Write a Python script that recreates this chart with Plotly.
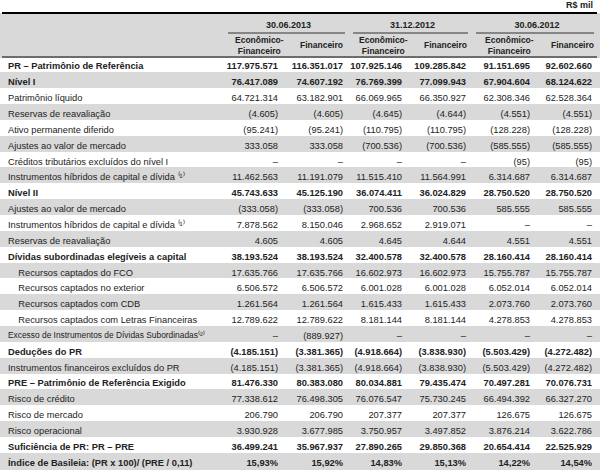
import plotly.graph_objects as go

W, H = 600, 474

periods = ["30.06.2013", "31.12.2012", "30.06.2012"]
sub_headers = ["Econômico-<br>Financeiro", "Financeiro"] * 3

labels = [
    "PR – Patrimônio de Referência",
    "Nível I",
    "Patrimônio líquido",
    "Reservas de reavaliação",
    "Ativo permanente diferido",
    "Ajustes ao valor de mercado",
    "Créditos tributários excluídos do nível I",
    "Instrumentos híbridos de capital e dívida ⁽¹⁾",
    "Nível II",
    "Ajustes ao valor de mercado",
    "Instrumentos híbridos de capital e dívida ⁽¹⁾",
    "Reservas de reavaliação",
    "Dívidas subordinadas elegíveis a capital",
    "Recursos captados do FCO",
    "Recursos captados no exterior",
    "Recursos captados com CDB",
    "Recursos captados com Letras Financeiras",
    "Excesso de Instrumentos de Dívidas Subordinadas⁽²⁾",
    "Deduções do PR",
    "Instrumentos financeiros excluídos do PR",
    "PRE – Patrimônio de Referência Exigido",
    "Risco de crédito",
    "Risco de mercado",
    "Risco operacional",
    "Suficiência de PR: PR – PRE",
    "Índice de Basileia: (PR x 100)/ (PRE / 0,11)",
]
bold_rows = [0, 1, 8, 12, 18, 20, 24, 25]
indent_rows = [13, 14, 15, 16]
small_rows = [17]

ef_2013_06 = [117975571, 76417089, 64721314, -4605, -95241, 333058, None, 11462563,
              45743633, -333058, 7878562, 4605, 38193524, 17635766, 6506572, 1261564,
              12789622, None, -4185151, -4185151, 81476330, 77338612, 206790, 3930928,
              36499241, 15.93]
fin_2013_06 = [116351017, 74607192, 63182901, -4605, -95241, 333058, None, 11191079,
               45125190, -333058, 8150046, 4605, 38193524, 17635766, 6506572, 1261564,
               12789622, -889927, -3381365, -3381365, 80383080, 76498305, 206790, 3677985,
               35967937, 15.92]
ef_2012_12 = [107925146, 76769399, 66069965, -4645, -110795, -700536, None, 11515410,
              36074411, 700536, 2968652, 4645, 32400578, 16602973, 6001028, 1615433,
              8181144, None, -4918664, -4918664, 80034881, 76076547, 207377, 3750957,
              27890265, 14.83]
fin_2012_12 = [109285842, 77099943, 66350927, -4644, -110795, -700536, None, 11564991,
               36024829, 700536, 2919071, 4644, 32400578, 16602973, 6001028, 1615433,
               8181144, None, -3838930, -3838930, 79435474, 75730245, 207377, 3497852,
               29850368, 15.13]
ef_2012_06 = [91151695, 67904604, 62308346, -4551, -128228, -585555, -95, 6314687,
              28750520, 585555, None, 4551, 28160414, 15755787, 6052014, 2073760,
              4278853, None, -5503429, -5503429, 70497281, 66494392, 126675, 3876214,
              20654414, 14.22]
fin_2012_06 = [92602660, 68124622, 62528364, -4551, -128228, -585555, -95, 6314687,
               28750520, 585555, None, 4551, 28160414, 15755787, 6052014, 2073760,
               4278853, None, -4272482, -4272482, 70076731, 66327270, 126675, 3622786,
               22525929, 14.54]

GRAY = "#d9d9d9"
TXT = "#222222"
FONT = "Liberation Sans, Arial, sans-serif"
CLEAR = "rgba(0,0,0,0)"

# limites das colunas em pixels
col_edges = [0, 226, 286, 351, 410, 474, 538, 600]
col_w = [b - a for a, b in zip(col_edges[:-1], col_edges[1:])]
n = len(labels)
ROW_H = 15.85
BODY_TOP, BODY_BOT = 33, 471
TEXT_SHIFT = 2.5  # o texto do go.Table fica um pouco baixo: sobe as camadas de texto


def fmt(v):
    if v is None:
        return "–"
    if isinstance(v, float):
        return f"{v:.2f}".replace(".", ",") + "%"
    s = f"{abs(v):,}".replace(",", ".")
    return f"({s})" if v < 0 else s


label_col = [("\u00a0" * 4 + lab) if i in indent_rows else lab for i, lab in enumerate(labels)]
num_cols = [[fmt(v) for v in col]
            for col in [ef_2013_06, fin_2013_06, ef_2012_12, fin_2012_12, ef_2012_06, fin_2012_06]]
all_cols = [label_col] + num_cols

row_fill = ["white" if i % 2 == 0 else GRAY for i in range(n)]


def pick(rows, label_rows=None):
    """mantém só o texto das linhas pedidas (o resto fica vazio)"""
    label_rows = rows if label_rows is None else label_rows
    out = [[t if i in label_rows else "" for i, t in enumerate(all_cols[0])]]
    for col in all_cols[1:]:
        out.append([t if i in rows else "" for i, t in enumerate(col)])
    return out


def body_table(values, fill, header_fill, shift=0.0, weight="normal", label_size=9.3):
    return go.Table(
        domain=dict(x=[0, 1], y=[1 - (BODY_BOT - shift) / H, 1 - (BODY_TOP - shift) / H]),
        columnwidth=col_w,
        header=dict(values=[""] * 7, fill_color=header_fill, line_color=header_fill, height=24),
        cells=dict(
            values=values,
            fill_color=[fill] * 7,
            line_color=[fill] * 7,
            align=["left"] + ["right"] * 6,
            height=ROW_H,
            font=dict(family=FONT, color=TXT, size=[label_size] + [9.3] * 6, weight=weight),
        ),
    )


fig = go.Figure()

# linha das datas
fig.add_trace(go.Table(
    domain=dict(x=[0, 1], y=[1 - 53 / H, 1 - 13 / H]),
    columnwidth=[col_w[0], col_w[1] + col_w[2], col_w[3] + col_w[4], col_w[5] + col_w[6]],
    header=dict(
        values=[""] + periods,
        fill_color=GRAY,
        line_color=GRAY,
        align="center",
        height=20,
        font=dict(family=FONT, size=9, color=TXT, weight="bold"),
    ),
    cells=dict(values=[[""]] * 4, fill_color=GRAY, line_color=GRAY, height=20),
))

normal_rows = [i for i in range(n) if i not in bold_rows]
normal_labels = [i for i in normal_rows if i not in small_rows]
clear_fill = [CLEAR] * n

# fundo alternado (sem texto)
fig.add_trace(body_table(pick([]), row_fill, GRAY))
# texto normal
fig.add_trace(body_table(pick(normal_rows, normal_labels), clear_fill, CLEAR, TEXT_SHIFT))
# texto em negrito
fig.add_trace(body_table(pick(bold_rows), clear_fill, CLEAR, TEXT_SHIFT, weight="bold"))
# rótulo "Excesso..." em fonte menor
fig.add_trace(body_table(pick([], small_rows), clear_fill, CLEAR, TEXT_SHIFT, label_size=8.4))

shapes = [
    dict(type="line", xref="paper", yref="paper", x0=2 / W, x1=597 / W,
         y0=1 - 13 / H, y1=1 - 13 / H, line=dict(color="black", width=2)),
    dict(type="line", xref="paper", yref="paper", x0=2 / W, x1=597 / W,
         y0=1 - 57 / H, y1=1 - 57 / H, line=dict(color="black", width=1)),
]
# sublinhado das datas
for k in range(3):
    x0 = col_edges[1 + 2 * k] + 2
    x1 = col_edges[3 + 2 * k] - 6
    shapes.append(dict(type="line", xref="paper", yref="paper", x0=x0 / W, x1=x1 / W,
                       y0=1 - 33 / H, y1=1 - 33 / H, line=dict(color="#333333", width=1)))

annotations = [dict(text="<b>R$ mil</b>", xref="paper", yref="paper",
                    x=595 / W, y=1 - 5 / H, xanchor="right", yanchor="middle",
                    showarrow=False, font=dict(family=FONT, size=9, color=TXT))]
for j, sh in enumerate(sub_headers):
    xc = (col_edges[j + 1] + col_edges[j + 2]) / 2 + 3
    annotations.append(dict(text=f"<b>{sh}</b>", xref="paper", yref="paper",
                            x=xc / W, y=1 - 45 / H, xanchor="center", yanchor="middle",
                            showarrow=False, font=dict(family=FONT, size=8.5, color=TXT)))

fig.update_layout(
    width=W,
    height=H,
    margin=dict(l=0, r=0, t=0, b=0),
    paper_bgcolor="white",
    shapes=shapes,
    annotations=annotations,
)

fig.write_html("out.html", config={"displayModeBar": False},
               post_script="document.body.style.margin='0';")
